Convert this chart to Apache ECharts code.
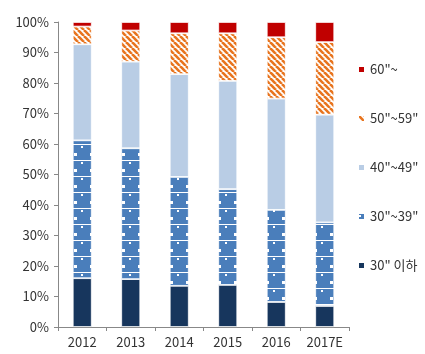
<!DOCTYPE html>
<html><head><meta charset="utf-8">
<script src="https://cdn.jsdelivr.net/npm/echarts@6/dist/echarts.min.js"></script>
<style>html,body{margin:0;padding:0;background:#fff}#c{width:425px;height:354px}</style>
</head><body><div id="c"></div>
<script>
const categories = ['2012','2013','2014','2015','2016','2017E'];
const seriesNames = ['30" 이하','30"~39"','40"~49"','50"~59"','60"~'];
const under30 = [16.0, 15.7, 13.5, 13.8, 8.2, 6.9];
const age30s = [45.2, 42.9, 35.7, 31.4, 30.2, 27.4];
const age40s = [31.5, 28.4, 33.7, 35.5, 36.5, 35.3];
const age50s = [5.8, 10.2, 13.4, 15.6, 20.1, 23.8];
const age60plus = [1.5, 2.8, 3.7, 3.7, 5.0, 6.6];

function blueDots(){
  const c = document.createElement('canvas'); c.width = 16; c.height = 16;
  const g = c.getContext('2d');
  g.fillStyle = '#4A7EBB'; g.fillRect(0,0,16,16);
  g.fillStyle = '#ffffff';
  g.fillRect(0,0,16,1);
  g.fillRect(1,2,2,2);
  g.fillRect(10,9,3,3);
  return c;
}
function orangeStripes(){
  const c = document.createElement('canvas'); c.width = 6; c.height = 6;
  const g = c.getContext('2d');
  g.fillStyle = '#ffffff'; g.fillRect(0,0,6,6);
  g.strokeStyle = '#E8741E'; g.lineWidth = 2.6;
  for (let k = -6; k <= 12; k += 6) {
    g.beginPath(); g.moveTo(k, 0); g.lineTo(k + 6, 6); g.stroke();
  }
  return c;
}
const colors = ['#17365D', {image: blueDots(), repeat: 'repeat'}, '#B9CDE5', {image: orangeStripes(), repeat: 'repeat'}, '#C00000'];
const dataSets = [under30, age30s, age40s, age50s, age60plus];

const chart = echarts.init(document.getElementById('c'), null, {renderer: 'canvas'});
const font = '"Noto Sans CJK KR", "Open Sans", sans-serif';
chart.setOption({
  animation: false,
  textStyle: {fontFamily: font},
  grid: {left: 58, right: 76, top: 22, bottom: 27},
  legend: {
    orient: 'vertical', left: 352, top: 58, itemGap: 36,
    itemWidth: 7, itemHeight: 7, icon: 'rect',
    data: seriesNames.slice().reverse(),
    textStyle: {fontSize: 13, color: '#333', fontFamily: font}
  },
  xAxis: {
    type: 'category', data: categories,
    axisLine: {lineStyle: {color: '#888'}},
    axisTick: {show: true, length: 4, lineStyle: {color: '#888'}},
    axisLabel: {fontSize: 13, color: '#333', margin: 9}
  },
  yAxis: {
    type: 'value', min: 0, max: 100, interval: 10,
    axisLine: {show: true, lineStyle: {color: '#888'}},
    axisTick: {show: true, length: 4, lineStyle: {color: '#888'}},
    splitLine: {show: false},
    axisLabel: {formatter: '{value}%', fontSize: 13, color: '#333', margin: 9}
  },
  series: seriesNames.map((n, i) => ({
    name: n, type: 'bar', stack: 'total', barWidth: 19,
    data: dataSets[i],
    itemStyle: {color: colors[i], borderColor: '#fff', borderWidth: 0.8}
  }))
});
</script></body></html>
